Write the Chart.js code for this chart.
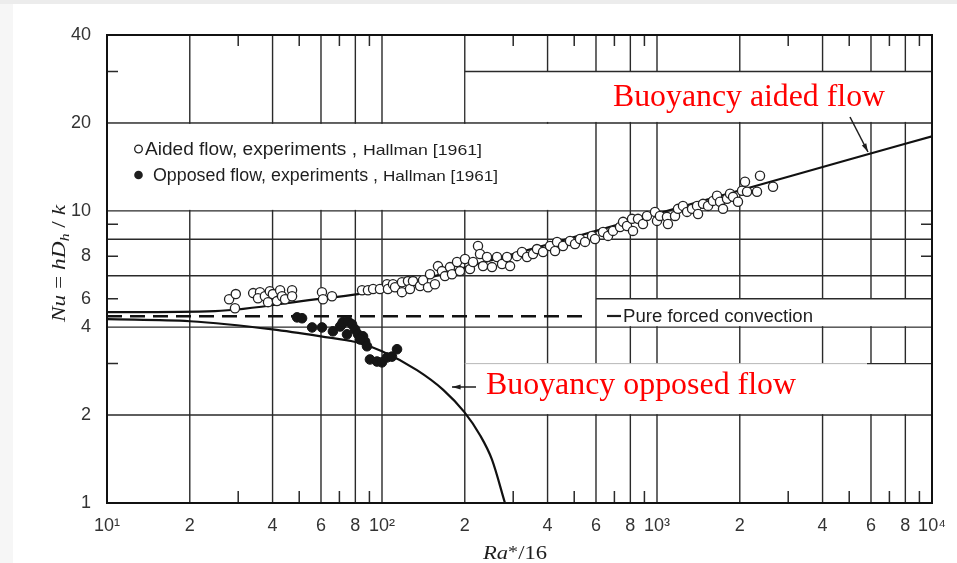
<!DOCTYPE html>
<html>
<head>
<meta charset="utf-8">
<title>Nu vs Ra*/16 - mixed convection</title>
<script src="https://cdn.jsdelivr.net/npm/chart.js@4.4.1/dist/chart.umd.min.js"></script>
<style>
  html, body { margin: 0; padding: 0; background: #fff; }
  canvas { display: block; }
</style>
</head>
<body>
<canvas id="nu-chart" width="957" height="563"></canvas>
<script>
// Hallman [1961], buoyancy aided flow (open circles)
const aidedRa = [27.8, 29.4, 29.2, 34.0, 36.0, 35.4, 37.5, 38.5, 39.1, 40.1,
    41.5, 42.6, 43.3, 44.4, 47.1, 47.1, 60.5, 61.0, 65.8, 84.6,
    88.9, 92.8, 98.3, 104.3, 105.1, 109.6, 111.5, 118.2, 118.2, 124.3,
    126.4, 129.6, 137.5, 141.0, 147.0, 149.5, 155.8, 159.8, 165.2, 169.4,
    176.7, 179.7, 187.4, 192.1, 200.4, 208.9, 214.3, 223.4, 227.2, 233.0,
    240.9, 251.2, 261.9, 273.2, 284.8, 292.2, 309.7, 322.9, 336.8, 354.1,
    366.1, 385.1, 408.3, 425.8, 433.0, 455.2, 482.7, 503.4, 524.8, 547.4,
    580.4, 595.1, 636.4, 663.6, 691.8, 733.8, 752.5, 777.9, 811.1, 817.9,
    852.9, 889.3, 919.5, 983.3, 1000, 1025, 1087, 1096, 1163, 1192,
    1243, 1286, 1341, 1398, 1410, 1470, 1533, 1598, 1653, 1695,
    1738, 1797, 1843, 1890, 1970, 2038, 2089, 2125, 2310, 2369,
    2642];
const aidedNu = [4.98, 5.19, 4.64, 5.23, 5.27, 5.02, 5.10, 4.87, 5.31, 5.19,
    4.91, 5.35, 5.10, 4.98, 5.35, 5.10, 5.27, 4.98, 5.10, 5.35,
    5.35, 5.40, 5.40, 5.61, 5.40, 5.61, 5.48, 5.70, 5.27, 5.75,
    5.40, 5.75, 5.53, 5.79, 5.48, 6.07, 5.61, 6.47, 6.22, 5.98,
    6.42, 6.07, 6.68, 6.22, 6.84, 6.32, 6.68, 7.58, 7.12, 6.47,
    6.95, 6.42, 6.95, 6.58, 6.95, 6.47, 7.00, 7.23, 6.95, 7.12,
    7.40, 7.23, 7.58, 7.29, 7.83, 7.58, 7.89, 7.70, 8.01, 7.83,
    8.21, 8.01, 8.47, 8.21, 8.54, 8.81, 9.17, 8.88, 9.39, 8.54,
    9.39, 9.02, 9.61, 9.92, 9.24, 9.61, 9.54, 9.02, 9.61, 10.16,
    10.40, 9.92, 10.16, 10.40, 9.76, 10.57, 10.40, 10.82, 11.26, 10.74,
    10.16, 11.0, 11.44, 11.17, 10.74, 11.72, 12.58, 11.63, 11.63, 13.19,
    12.09];

// Hallman [1961], buoyancy opposed flow (filled circles)
const opposedRa = [49.1, 51.2, 55.7, 60.5, 66.3, 70.4, 71.5, 72.1, 75.2, 77.8,
    79.8, 74.6, 81.8, 84.6, 85.3, 86.8, 83.2, 88.2, 90.4, 95.9,
    100, 104.3, 108.7, 113.4];
const opposedNu = [4.32, 4.29, 3.99, 3.99, 3.87, 4.02, 4.09, 4.16, 4.19, 4.09,
    3.93, 3.78, 3.78, 3.70, 3.72, 3.57, 3.63, 3.44, 3.10, 3.05,
    3.03, 3.15, 3.17, 3.36];

// predicted curves
const aidedCurveRa = [10, 24.7, 57.1, 81.8, 104, 200, 400, 1000, 2100, 5000, 10000];
const aidedCurveNu = [4.50, 4.54, 4.98, 5.19, 5.40, 6.40, 7.67, 9.78, 11.9, 15.0, 18.0];
const opposedCurveRa = [10, 20, 40, 60, 81, 100, 134, 167, 199, 227, 251, 280];
const opposedCurveNu = [4.26, 4.19, 3.93, 3.72, 3.55, 3.31, 2.85, 2.44, 2.05, 1.71, 1.41, 1.0];
const forcedRa = [10, 570];
const forcedNu = [4.36, 4.36];

// axes
const xTicks = [10, 20, 40, 60, 80, 100, 200, 400, 600, 800, 1000, 2000, 4000, 6000, 8000, 10000];
const xTickLabels = ['10¹', '2', '4', '6', '8', '10²', '2', '4', '6', '8', '10³', '2', '4', '6', '8', '10⁴'];
const xMinor = [30, 50, 70, 90, 300, 500, 700, 900, 3000, 5000, 7000, 9000];
const yTicks = [1, 2, 4, 5, 7, 10, 20, 40];
const yTickLabels = ['1', '2', '4', '6', '8', '10', '20', '40'];
const yGrid = [2, 4, 6, 8, 10, 20];
const yMinorLeft = [3, 5, 7, 9, 30];
const yMinorRight = [7, 9];

const pts = (xs, ys) => xs.map((x, i) => ({x: x, y: ys[i]}));

const INK = '#1e1e1e';
const SANS = '"Liberation Sans", Arial, sans-serif';
const SERIF = '"Liberation Serif", "Times New Roman", serif';

// draw text squeezed/stretched to a given width
function fitText(ctx, text, x, y, width) {
    const w = ctx.measureText(text).width;
    ctx.save();
    ctx.translate(x, y);
    ctx.scale(width / w, 1);
    ctx.fillText(text, 0, 0);
    ctx.restore();
}

// runs of [text, font, baselineShift], laid out along +x, scaled to width
function drawRuns(ctx, runs, width) {
    let total = 0;
    runs.forEach(r => { ctx.font = r[1]; total += ctx.measureText(r[0]).width; });
    ctx.save();
    ctx.scale(width / total, 1);
    let cx = 0;
    runs.forEach(r => {
        ctx.font = r[1];
        ctx.fillText(r[0], cx, r[2] || 0);
        cx += ctx.measureText(r[0]).width;
    });
    ctx.restore();
}

function arrow(ctx, x0, y0, x1, y1) {
    const a = Math.atan2(y1 - y0, x1 - x0);
    ctx.beginPath();
    ctx.moveTo(x0, y0);
    ctx.lineTo(x1, y1);
    ctx.stroke();
    ctx.beginPath();
    ctx.moveTo(x1, y1);
    ctx.lineTo(x1 - 9 * Math.cos(a - 0.28), y1 - 9 * Math.sin(a - 0.28));
    ctx.lineTo(x1 - 9 * Math.cos(a + 0.28), y1 - 9 * Math.sin(a + 0.28));
    ctx.closePath();
    ctx.fill();
}

const figure = {
    id: 'figure',
    beforeDraw(chart) {
        const ctx = chart.ctx;
        ctx.save();
        ctx.fillStyle = '#fff';
        ctx.fillRect(0, 0, chart.width, chart.height);
        ctx.fillStyle = '#f6f6f6';
        ctx.fillRect(0, 0, 13, chart.height);
        ctx.fillStyle = '#ececec';
        ctx.fillRect(0, 0, chart.width, 4);
        ctx.restore();
    },
    beforeDatasetsDraw(chart) {
        const ctx = chart.ctx;
        const {left, right, top, bottom} = chart.chartArea;
        const X = v => chart.scales.x.getPixelForValue(v);
        const Y = v => chart.scales.y.getPixelForValue(v);
        ctx.save();
        ctx.strokeStyle = '#2a2a2a';
        ctx.lineWidth = 1.4;

        // grid
        ctx.beginPath();
        xTicks.slice(1, -1).forEach(v => { ctx.moveTo(X(v), top); ctx.lineTo(X(v), bottom); });
        yGrid.forEach(v => { ctx.moveTo(left, Y(v)); ctx.lineTo(right, Y(v)); });
        ctx.stroke();

        // blank panels behind the legend and labels
        ctx.fillStyle = '#fff';
        ctx.fillRect(left, Y(20) + 1, X(600) - 1 - left, Y(10) - Y(20) - 2);
        ctx.fillRect(X(200) + 1, Y(30), right - X(200) - 1, Y(20) - Y(30) - 1);
        ctx.fillRect(X(600) + 1, Y(5), right - X(600) - 1, Y(4) - Y(5) - 1);
        ctx.fillRect(X(200) + 1, Y(3), right - X(200) - 1, Y(2) - Y(3) - 1);

        ctx.beginPath();
        ctx.moveTo(X(200), Y(30)); ctx.lineTo(right, Y(30));
        ctx.moveTo(X(600), Y(5)); ctx.lineTo(right, Y(5));
        ctx.moveTo(X(5800), Y(3)); ctx.lineTo(right, Y(3));
        ctx.stroke();
        ctx.strokeStyle = '#b8b8b8';
        ctx.lineWidth = 1;
        ctx.beginPath();
        ctx.moveTo(X(200), Y(3)); ctx.lineTo(X(5800), Y(3));
        ctx.stroke();

        // minor tick marks, pointing inward
        ctx.strokeStyle = '#2a2a2a';
        ctx.lineWidth = 1.5;
        ctx.beginPath();
        xMinor.forEach(v => {
            ctx.moveTo(X(v), bottom); ctx.lineTo(X(v), bottom - 12);
            ctx.moveTo(X(v), top); ctx.lineTo(X(v), top + 11);
        });
        yMinorLeft.forEach(v => { ctx.moveTo(left, Y(v)); ctx.lineTo(left + 11, Y(v)); });
        yMinorRight.forEach(v => { ctx.moveTo(right, Y(v)); ctx.lineTo(right - 11, Y(v)); });
        ctx.stroke();

        // frame
        ctx.strokeStyle = '#111';
        ctx.lineWidth = 2;
        ctx.strokeRect(left, top, right - left, bottom - top);
        ctx.restore();
    },
    afterDraw(chart) {
        const ctx = chart.ctx;
        ctx.save();
        ctx.fillStyle = INK;
        ctx.strokeStyle = INK;
        ctx.textBaseline = 'alphabetic';

        // legend
        ctx.lineWidth = 1.3;
        ctx.beginPath();
        ctx.arc(138.5, 149, 3.8, 0, Math.PI * 2);
        ctx.stroke();
        ctx.beginPath();
        ctx.arc(138.5, 175, 4.3, 0, Math.PI * 2);
        ctx.fill();
        ctx.font = '18px ' + SANS;
        fitText(ctx, 'Aided flow, experiments ,', 145, 155, 212);
        fitText(ctx, 'Opposed flow, experiments ,', 153, 181, 225);
        ctx.font = '15px ' + SANS;
        fitText(ctx, 'Hallman [1961]', 363, 155, 119);
        fitText(ctx, 'Hallman [1961]', 383, 181, 115);

        // pure forced convection label
        ctx.font = '18px ' + SANS;
        fitText(ctx, 'Pure forced convection', 623, 322, 190);
        ctx.lineWidth = 2.2;
        ctx.beginPath();
        ctx.moveTo(607, 316); ctx.lineTo(621, 316);
        ctx.stroke();

        // curve callouts
        ctx.fillStyle = '#ff0000';
        ctx.font = '31px ' + SERIF;
        fitText(ctx, 'Buoyancy aided flow', 613, 106, 272);
        fitText(ctx, 'Buoyancy opposed flow', 486, 394, 310);
        ctx.fillStyle = INK;
        ctx.lineWidth = 1.5;
        arrow(ctx, 850, 117, 868, 152);
        arrow(ctx, 476, 387, 452, 387);

        // axis titles
        ctx.save();
        ctx.translate(65, 322);
        ctx.rotate(-Math.PI / 2);
        const it = 'italic 18px ' + SERIF, up = '18px ' + SERIF;
        drawRuns(ctx, [['Nu', it], [' = ', up], ['hD', it], ['h', 'italic 12px ' + SERIF, 4], [' / ', up], ['k', it]], 117);
        ctx.restore();
        ctx.save();
        ctx.translate(483, 559);
        drawRuns(ctx, [['Ra', 'italic 18px ' + SERIF], ['*', '16px ' + SERIF, -2], ['/16', '18px ' + SERIF]], 64);
        ctx.restore();
        ctx.restore();
    }
};

new Chart(document.getElementById('nu-chart'), {
    type: 'scatter',
    data: {
        datasets: [
            {
                data: pts(aidedRa, aidedNu),
                pointRadius: 4.6,
                pointBackgroundColor: '#fff',
                pointBorderColor: '#222',
                pointBorderWidth: 1.3
            },
            {
                data: pts(opposedRa, opposedNu),
                pointRadius: 4.8,
                pointBackgroundColor: '#161616',
                pointBorderColor: '#161616',
                pointBorderWidth: 1
            },
            {
                data: pts(aidedCurveRa, aidedCurveNu),
                showLine: true,
                pointRadius: 0,
                borderColor: '#111',
                borderWidth: 2.2,
                cubicInterpolationMode: 'monotone'
            },
            {
                data: pts(opposedCurveRa, opposedCurveNu),
                showLine: true,
                pointRadius: 0,
                borderColor: '#111',
                borderWidth: 2.2,
                cubicInterpolationMode: 'monotone'
            },
            {
                data: pts(forcedRa, forcedNu),
                showLine: true,
                pointRadius: 0,
                borderColor: '#111',
                borderWidth: 2.6,
                borderDash: [15, 8]
            }
        ]
    },
    options: {
        responsive: false,
        animation: false,
        devicePixelRatio: 1,
        layout: {padding: {top: 35, right: 25, left: 0, bottom: 0}},
        plugins: {
            legend: {display: false},
            tooltip: {enabled: false}
        },
        scales: {
            x: {
                type: 'logarithmic',
                min: 10,
                max: 10000,
                afterBuildTicks: s => { s.ticks = xTicks.map(v => ({value: v})); },
                afterFit: s => { s.height = 60; },
                grid: {display: false},
                border: {display: false},
                ticks: {
                    autoSkip: false,
                    maxRotation: 0,
                    padding: 4,
                    color: '#333',
                    font: {family: SANS, size: 18},
                    callback: (v, i) => xTickLabels[i]
                }
            },
            y: {
                type: 'logarithmic',
                min: 1,
                max: 40,
                afterBuildTicks: s => { s.ticks = yTicks.map(v => ({value: v})); },
                afterFit: s => { s.width = 107; },
                grid: {display: false},
                border: {display: false},
                ticks: {
                    autoSkip: false,
                    padding: 8,
                    color: '#333',
                    font: {family: SANS, size: 18},
                    callback: (v, i) => yTickLabels[i]
                }
            }
        }
    },
    plugins: [figure]
});
</script>
</body>
</html>
